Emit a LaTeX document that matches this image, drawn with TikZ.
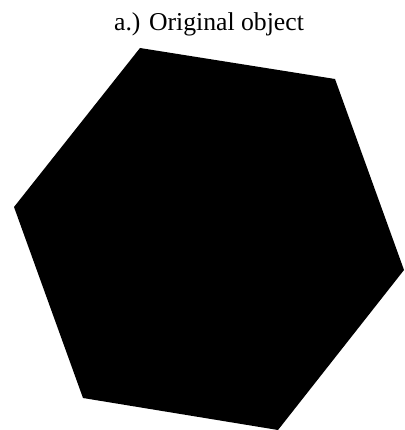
\documentclass[tikz,border=0pt]{standalone}
\usepackage{fontspec}
\setmainfont{Liberation Serif}
\begin{document}
\begin{tikzpicture}[x=1pt,y=-1pt,
  titlestyle/.style={anchor=base,inner sep=0pt,font=\fontsize{25.7}{30}\selectfont},
  hexstyle/.style={fill=black,draw=none}]
\useasboundingbox (0,0) rectangle (404,430);
\coordinate (v1) at (140,48);
\coordinate (v2) at (335,79);
\coordinate (v3) at (404,270);
\coordinate (v4) at (278,430);
\coordinate (v5) at (83,398);
\coordinate (v6) at (14,207);
\fill[hexstyle] (v1) -- (v2) -- (v3) -- (v4) -- (v5) -- (v6) -- cycle;
\node[titlestyle] (title) at (209,31) {a.) Original object};
\end{tikzpicture}
\end{document}
